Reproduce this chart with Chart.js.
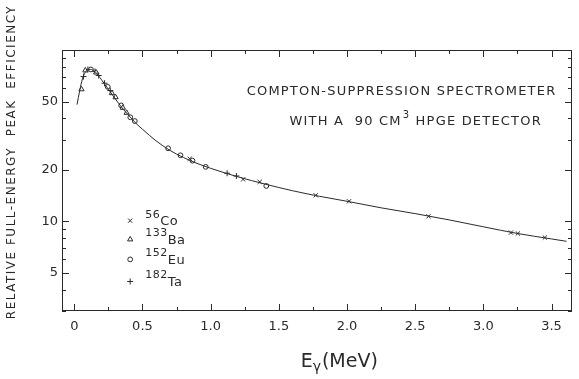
<!DOCTYPE html>
<html>
<head>
<meta charset="utf-8">
<script src="https://cdn.jsdelivr.net/npm/chart.js@4/dist/chart.umd.min.js"></script>
<style>
html, body { margin: 0; padding: 0; background: #fff; }
#wrap { width: 579px; height: 379px; }
</style>
</head>
<body>
<div id="wrap"><canvas id="effChart" width="579" height="379"></canvas></div>
<script>
// smooth fitted curve (MeV, relative efficiency)
var curveE   = [0.02, 0.04, 0.06, 0.08, 0.10, 0.12, 0.15, 0.20, 0.25, 0.30, 0.35, 0.40, 0.45, 0.50, 0.60, 0.70, 0.80, 0.90, 1.00, 1.20, 1.40, 1.60, 1.80, 2.00, 2.25, 2.50, 2.75, 3.00, 3.25, 3.50, 3.61];
var curveEff = [48, 58, 68, 74, 77, 77, 75, 67, 59, 52, 46, 41.5, 37.5, 34.5, 29.5, 26.0, 23.6, 21.8, 20.4, 18.2, 16.5, 15.1, 14.0, 13.1, 12.0, 11.1, 10.2, 9.3, 8.5, 7.9, 7.65];

// measured points per source
var coE   = [0.847, 1.238, 1.360, 1.771, 2.015, 2.598, 3.202, 3.253, 3.451];
var coEff = [23.2, 17.6, 17.0, 14.2, 13.1, 10.7, 8.6, 8.5, 8.05];
var baE   = [0.053, 0.081, 0.160, 0.276, 0.303, 0.356, 0.384];
var baEff = [59, 76, 74, 56, 53, 46, 43];
var euE   = [0.122, 0.245, 0.344, 0.411, 0.444, 0.688, 0.779, 0.867, 0.964, 1.408];
var euEff = [77, 61, 47.5, 40.5, 38.5, 26.7, 24.3, 22.6, 20.8, 16.1];
var taE   = [0.068, 0.100, 0.152, 0.179, 0.222, 0.264, 1.121, 1.189];
var taEff = [70, 77, 75, 71, 64, 58, 19.1, 18.4];

// axes
var xMajor = [0, 0.5, 1.0, 1.5, 2.0, 2.5, 3.0, 3.5];
var xLabels = ['0', '0.5', '1.0', '1.5', '2.0', '2.5', '3.0', '3.5'];
var xMinor = [0.25, 0.75, 1.25, 1.75, 2.25, 2.75, 3.25];
var yLabeled = [5, 10, 20, 50];
var yAllTicks = [3, 4, 5, 6, 7, 8, 9, 10, 20, 30, 40, 50, 60, 70, 80, 90, 100];

var legendNames = [['56', 'Co', 'crossRot'], ['133', 'Ba', 'triangle'], ['152', 'Eu', 'circle'], ['182', 'Ta', 'cross']];

var ink = '#2a2a2a';
var fontFam = '"DejaVu Sans", sans-serif';

function toXY(xs, ys) {
    return xs.map(function (x, i) { return { x: x, y: ys[i] }; });
}

function pointSet(label, xs, ys, style) {
    return {
        type: 'scatter',
        label: label,
        data: toXY(xs, ys),
        pointStyle: style,
        pointRadius: style == 'circle' ? 2.4 : 3,
        borderColor: ink,
        backgroundColor: '#fff',
        borderWidth: 1
    };
}

// draws a marker shape like the scatter points (for the legend)
function drawMarker(ctx, style, x, y) {
    ctx.save();
    ctx.fillStyle = '#fff';
    ctx.strokeStyle = ink;
    ctx.lineWidth = 1;
    Chart.helpers.drawPoint(ctx, { pointStyle: style, radius: style == 'circle' ? 2.4 : 3, borderWidth: 1 }, x, y);
    ctx.restore();
}

var framePlugin = {
    id: 'frame',
    afterDraw: function (chart) {
        var ctx = chart.ctx;
        var a = chart.chartArea;
        var xs = chart.scales.x, ys = chart.scales.y;
        ctx.save();
        ctx.strokeStyle = ink;
        ctx.lineWidth = 1;
        ctx.strokeRect(Math.round(a.left) + 0.5, Math.round(a.top) + 0.5, Math.round(a.right - a.left) - 1, Math.round(a.bottom - a.top) - 1);

        // inward tick marks on all four sides
        ctx.beginPath();
        xMajor.concat(xMinor).forEach(function (v) {
            var px = Math.round(xs.getPixelForValue(v)) + 0.5;
            var len = xMajor.indexOf(v) >= 0 ? 7 : 4;
            ctx.moveTo(px, a.bottom); ctx.lineTo(px, a.bottom - len);
            ctx.moveTo(px, a.top); ctx.lineTo(px, a.top + len);
        });
        yAllTicks.forEach(function (v) {
            var py = Math.round(ys.getPixelForValue(v)) + 0.5;
            var len = (yLabeled.indexOf(v) >= 0 || v == 100) ? 7 : 4;
            ctx.moveTo(a.left, py); ctx.lineTo(a.left + len, py);
            ctx.moveTo(a.right, py); ctx.lineTo(a.right - len, py);
        });
        ctx.stroke();

        ctx.fillStyle = ink;
        ctx.strokeStyle = ink;
        try { ctx.letterSpacing = '1.2px'; } catch (e) {}

        // note in the upper right
        ctx.font = '13px ' + fontFam;
        ctx.textAlign = 'center';
        ctx.textBaseline = 'middle';
        ctx.fillText('COMPTON-SUPPRESSION SPECTROMETER', xs.getPixelForValue(2.40), ys.getPixelForValue(57));
        var l2a = 'WITH A  90 CM', l2b = 'HPGE DETECTOR';
        ctx.textAlign = 'left';
        var w1 = ctx.measureText(l2a).width;
        ctx.font = '10px ' + fontFam;
        var w2 = ctx.measureText('3').width;
        ctx.font = '13px ' + fontFam;
        var w3 = ctx.measureText(' ' + l2b).width;
        var cx = xs.getPixelForValue(2.50), cy = ys.getPixelForValue(38.4);
        var sx = cx - (w1 + w2 + w3) / 2;
        ctx.fillText(l2a, sx, cy);
        ctx.font = '10px ' + fontFam;
        ctx.fillText('3', sx + w1 + 1, cy - 6);
        ctx.font = '13px ' + fontFam;
        ctx.fillText(' ' + l2b, sx + w1 + w2 + 1, cy);

        // legend
        var rows = [10.1, 7.85, 6.0, 4.46];
        var mx = xs.getPixelForValue(0.41), tx = xs.getPixelForValue(0.52);
        ctx.letterSpacing = '0.5px';
        legendNames.forEach(function (it, i) {
            var py = ys.getPixelForValue(rows[i]);
            drawMarker(ctx, it[2], mx, py);
            ctx.font = '11px ' + fontFam;
            ctx.textAlign = 'left';
            ctx.fillText(it[0], tx, py - 6);
            var sw = ctx.measureText(it[0]).width;
            ctx.font = '13px ' + fontFam;
            ctx.fillText(it[1], tx + sw, py + 1);
        });

        // x axis title with subscript gamma
        ctx.letterSpacing = '0px';
        var bx = xs.getPixelForValue(1.66), by = 362;
        ctx.font = '19px ' + fontFam;
        ctx.fillText('E', bx, by);
        var ew = ctx.measureText('E').width;
        ctx.font = '14px ' + fontFam;
        ctx.fillText('\u03b3', bx + ew, by + 5);
        var gw = ctx.measureText('\u03b3').width;
        ctx.font = '19px ' + fontFam;
        ctx.fillText('(MeV)', bx + ew + gw + 1, by);

        // y axis title, rotated
        ctx.letterSpacing = '1.5px';
        ctx.translate(12, 162);
        ctx.rotate(-Math.PI / 2);
        ctx.textAlign = 'center';
        ctx.font = '12px ' + fontFam;
        ctx.fillText('RELATIVE FULL-ENERGY  PEAK  EFFICIENCY', 0, 0);
        ctx.restore();
    }
};

var ctx = document.getElementById('effChart').getContext('2d');
var effChart = new Chart(ctx, {
    data: {
        datasets: [
            {
                type: 'line',
                label: 'fit',
                data: toXY(curveE, curveEff),
                borderColor: ink,
                borderWidth: 1,
                pointRadius: 0,
                cubicInterpolationMode: 'monotone',
                fill: false
            },
            pointSet('56Co', coE, coEff, 'crossRot'),
            pointSet('133Ba', baE, baEff, 'triangle'),
            pointSet('152Eu', euE, euEff, 'circle'),
            pointSet('182Ta', taE, taEff, 'cross')
        ]
    },
    options: {
        responsive: false,
        animation: false,
        layout: { padding: { top: 50, right: 7, left: 0, bottom: 0 } },
        plugins: { legend: { display: false }, tooltip: { enabled: false } },
        scales: {
            x: {
                type: 'linear',
                min: -0.09,
                max: 3.65,
                afterFit: function (s) { s.height = 68; },
                afterBuildTicks: function (s) { s.ticks = xMajor.map(function (v) { return { value: v }; }); },
                grid: { display: false, drawTicks: false },
                border: { display: false },
                ticks: {
                    autoSkip: false,
                    maxRotation: 0,
                    padding: 8,
                    color: ink,
                    font: { family: fontFam, size: 13 },
                    callback: function (v) { return xLabels[xMajor.indexOf(v)]; }
                }
            },
            y: {
                type: 'logarithmic',
                min: 3,
                max: 100,
                afterFit: function (s) { s.width = 62; },
                afterBuildTicks: function (s) { s.ticks = yLabeled.map(function (v) { return { value: v }; }); },
                grid: { display: false, drawTicks: false },
                border: { display: false },
                ticks: {
                    autoSkip: false,
                    padding: 4,
                    color: ink,
                    font: { family: fontFam, size: 13 },
                    callback: function (v) { return yLabeled.indexOf(v) >= 0 ? String(v) : ''; }
                }
            }
        }
    },
    plugins: [framePlugin]
});
</script>
</body>
</html>
